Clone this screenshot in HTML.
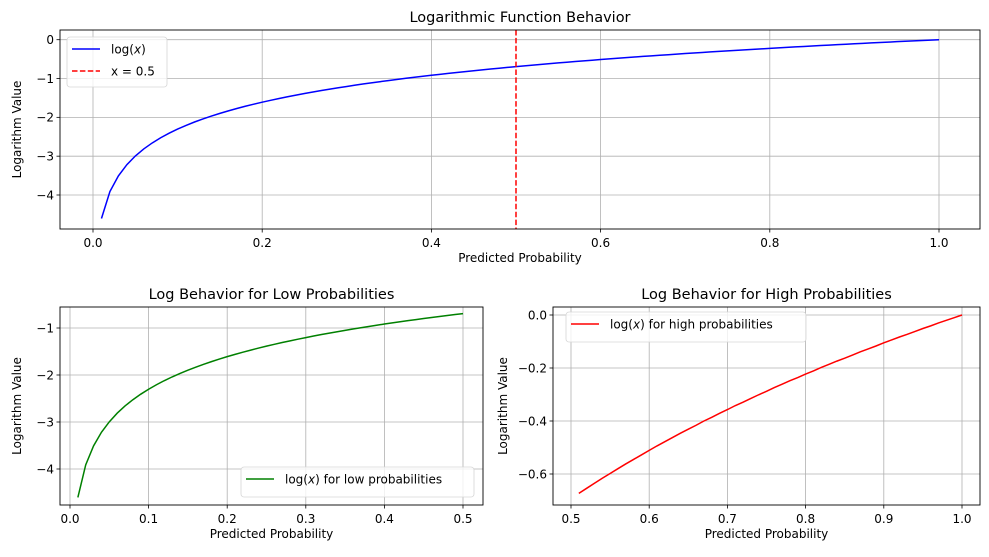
<!DOCTYPE html>
<html><head><meta charset="utf-8">
<style>
body{margin:0;background:#fff;}
svg{display:block;font-family:"DejaVu Sans","Liberation Sans",sans-serif;}
</style></head>
<body>
<svg id="fig" width="989" height="557" viewBox="0 0 989 557" xmlns="http://www.w3.org/2000/svg"></svg>
<script>
const lowX=[0.01,0.02,0.03,0.04,0.05,0.06,0.07,0.08,0.09,0.10,0.11,0.12,0.13,0.14,0.15,0.16,0.17,0.18,0.19,0.20,0.21,0.22,0.23,0.24,0.25,0.26,0.27,0.28,0.29,0.30,0.31,0.32,0.33,0.34,0.35,0.36,0.37,0.38,0.39,0.40,0.41,0.42,0.43,0.44,0.45,0.46,0.47,0.48,0.49,0.50];
const lowY=[-4.605,-3.912,-3.507,-3.219,-2.996,-2.813,-2.659,-2.526,-2.408,-2.303,-2.207,-2.120,-2.040,-1.966,-1.897,-1.833,-1.772,-1.715,-1.661,-1.609,-1.561,-1.514,-1.470,-1.427,-1.386,-1.347,-1.309,-1.273,-1.238,-1.204,-1.171,-1.139,-1.109,-1.079,-1.050,-1.022,-0.994,-0.968,-0.942,-0.916,-0.892,-0.868,-0.844,-0.821,-0.799,-0.777,-0.755,-0.734,-0.713,-0.693];
const highX=[0.51,0.52,0.53,0.54,0.55,0.56,0.57,0.58,0.59,0.60,0.61,0.62,0.63,0.64,0.65,0.66,0.67,0.68,0.69,0.70,0.71,0.72,0.73,0.74,0.75,0.76,0.77,0.78,0.79,0.80,0.81,0.82,0.83,0.84,0.85,0.86,0.87,0.88,0.89,0.90,0.91,0.92,0.93,0.94,0.95,0.96,0.97,0.98,0.99,1.00];
const highY=[-0.673,-0.654,-0.635,-0.616,-0.598,-0.580,-0.562,-0.545,-0.528,-0.511,-0.494,-0.478,-0.462,-0.446,-0.431,-0.416,-0.400,-0.386,-0.371,-0.357,-0.342,-0.329,-0.315,-0.301,-0.288,-0.274,-0.261,-0.248,-0.236,-0.223,-0.211,-0.198,-0.186,-0.174,-0.163,-0.151,-0.139,-0.128,-0.117,-0.105,-0.094,-0.083,-0.073,-0.062,-0.051,-0.041,-0.030,-0.020,-0.010,0.000];
const topXTicks=[0,0.2,0.4,0.6,0.8,1.0];
const topXLabels=["0.0","0.2","0.4","0.6","0.8","1.0"];
const topYTicks=[0,-1,-2,-3,-4];
const topYLabels=["0","\u22121","\u22122","\u22123","\u22124"];
const lowXTicks=[0,0.1,0.2,0.3,0.4,0.5];
const lowXLabels=["0.0","0.1","0.2","0.3","0.4","0.5"];
const lowYTicks=[-1,-2,-3,-4];
const lowYLabels=["\u22121","\u22122","\u22123","\u22124"];
const highXTicks=[0.5,0.6,0.7,0.8,0.9,1.0];
const highXLabels=["0.5","0.6","0.7","0.8","0.9","1.0"];
const highYTicks=[0,-0.2,-0.4,-0.6];
const highYLabels=["0.0","\u22120.2","\u22120.4","\u22120.6"];
const vlineX=0.5;

const NS="http://www.w3.org/2000/svg";
const svg=document.getElementById('fig');
function mk(tag,attrs,parent,text){const e=document.createElementNS(NS,tag);for(const k in attrs)e.setAttribute(k,attrs[k]);if(text!==undefined)e.textContent=text;(parent||svg).appendChild(e);return e;}

function axes(cfg){
  const g=mk('g',{});
  
  
  const sx=v=>cfg.x0px+(v-cfg.x0v)*(cfg.x1px-cfg.x0px)/(cfg.x1v-cfg.x0v);
  const sy=v=>cfg.y0px+(v-cfg.y0v)*(cfg.y1px-cfg.y0px)/(cfg.y1v-cfg.y0v);
  const F=cfg.frame;
  cfg.xt.forEach((t,i)=>{const x=sx(t);
    const l=mk('line',{x1:x,x2:x,y1:F.t,y2:F.b,stroke:'#b0b0b0','stroke-width':0.8},g);
    
    mk('line',{x1:x,x2:x,y1:F.b,y2:F.b+3.5,stroke:'#000','stroke-width':0.8},g);
    const tx=mk('text',{x:x,y:F.b+18,'font-size':12,'text-anchor':'middle',fill:'#000'},g,cfg.xl[i]);
    
  });
  cfg.yt.forEach((t,i)=>{const y=sy(t);
    const l=mk('line',{x1:F.l,x2:F.r,y1:y,y2:y,stroke:'#b0b0b0','stroke-width':0.8},g);
    
    mk('line',{x1:F.l-3.5,x2:F.l,y1:y,y2:y,stroke:'#000','stroke-width':0.8},g);
    const tx=mk('text',{x:F.l-6,y:y+4.3,'font-size':12,'text-anchor':'end',fill:'#000'},g,cfg.yl[i]);
    
  });
  cfg.series.forEach(s=>{
    const d=s.x.map((v,i)=>(i?'L':'M')+sx(v).toFixed(2)+','+sy(s.y[i]).toFixed(2)).join('');
    const p=mk('path',{d:d,fill:'none',stroke:s.color,'stroke-width':1.5},g);
    
  });
  if(cfg.vline!==undefined){const x=sx(cfg.vline);
    const l=mk('line',{x1:x,x2:x,y1:F.t,y2:F.b,stroke:'#ff0000','stroke-width':1.5,'stroke-dasharray':'5.5,2.4'},g);
    }
  mk('rect',{x:F.l,y:F.t,width:F.r-F.l,height:F.b-F.t,fill:'none',stroke:'#000','stroke-width':0.9},g);
  const ti=mk('text',{x:(F.l+F.r)/2,y:F.t-8,'font-size':14.5,'text-anchor':'middle'},g,cfg.title);
  
  const xa=mk('text',{x:(F.l+F.r)/2,y:F.b+33,'font-size':12,'text-anchor':'middle'},g,'Predicted Probability');
  
  const yx=cfg.ylabX, yy=(F.t+F.b)/2;
  const ya=mk('text',{x:yx,y:yy,'font-size':12,'text-anchor':'middle',transform:`rotate(-90 ${yx} ${yy})`},g,'Logarithm Value');
  
  const L=cfg.legend;
  const lg=mk('g',{},g);
  
  mk('rect',{x:L.x,y:L.y,width:L.w,height:L.h,rx:3,fill:'#fff','fill-opacity':0.8,stroke:'#d6d6d6','stroke-width':0.8},lg);
  L.items.forEach((it,i)=>{const cy=L.y+12+i*22;
    const e=mk('g',{},lg);
    
    const a={x1:L.x+5,x2:L.x+33,y1:cy,y2:cy,stroke:it.color,'stroke-width':1.5};
    if(it.dash)a['stroke-dasharray']='5.5,2.4';
    mk('line',a,e);
    const t=mk('text',{x:L.x+44,y:cy+4.5,'font-size':12},e);
    t.innerHTML=it.html;
  });
}
axes({name:'top-chart',title:'Logarithmic Function Behavior',frame:{l:60,r:980,t:30,b:229},
  x0v:0,x1v:0.5,x0px:93,x1px:516,y0v:0,y1v:-4,y0px:39.7,y1px:195,
  xt:topXTicks,xl:topXLabels,yt:topYTicks,yl:topYLabels,ylabX:21,
  series:[{name:'log-line',x:lowX.concat(highX),y:lowY.concat(highY),color:'#0000ff'}],vline:vlineX,
  legend:{x:67,y:37,w:100,h:50,items:[{color:'#0000ff',html:'log(<tspan font-style="italic">x</tspan>)'},{color:'#ff0000',dash:true,html:'x = 0.5'}]}});
axes({name:'low-prob-chart',title:'Log Behavior for Low Probabilities',frame:{l:60,r:483,t:307,b:505},
  x0v:0,x1v:0.5,x0px:70,x1px:463,y0v:-1,y1v:-4,y0px:328,y1px:469,
  xt:lowXTicks,xl:lowXLabels,yt:lowYTicks,yl:lowYLabels,ylabX:21,
  series:[{name:'low-prob-line',x:lowX,y:lowY,color:'#008000'}],
  legend:{x:241,y:467,w:233,h:30,items:[{color:'#008000',html:'log(<tspan font-style="italic">x</tspan>) for low probabilities'}]}});
axes({name:'high-prob-chart',title:'Log Behavior for High Probabilities',frame:{l:553,r:980,t:307,b:505},
  x0v:0.5,x1v:1.0,x0px:571,x1px:962,y0v:0,y1v:-0.6,y0px:315,y1px:474,
  xt:highXTicks,xl:highXLabels,yt:highYTicks,yl:highYLabels,ylabX:507,
  series:[{name:'high-prob-line',x:highX,y:highY,color:'#ff0000'}],
  legend:{x:566,y:312,w:240,h:30,items:[{color:'#ff0000',html:'log(<tspan font-style="italic">x</tspan>) for high probabilities'}]}});
</script>
</body></html>
